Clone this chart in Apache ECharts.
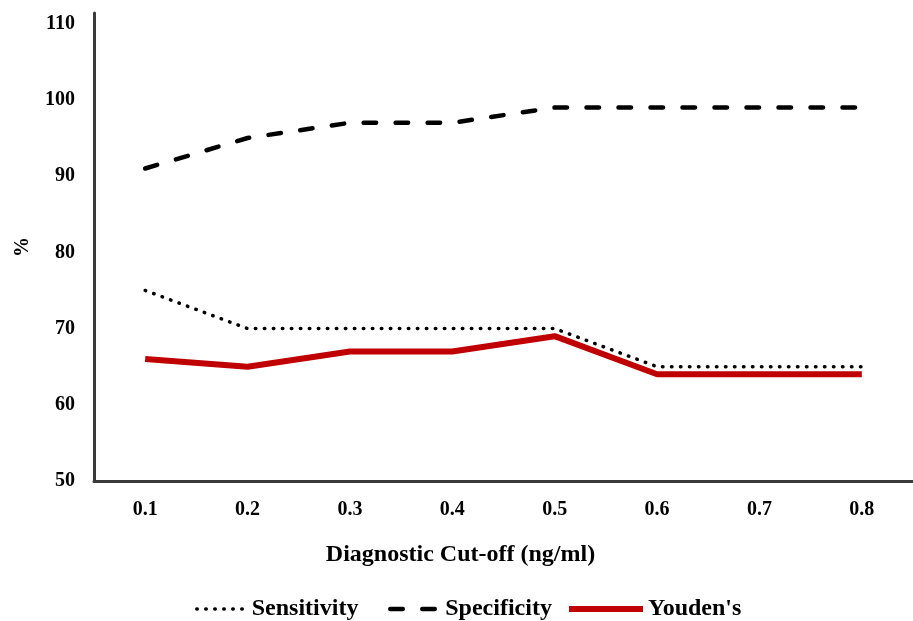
<!DOCTYPE html>
<html><head><meta charset="utf-8">
<script src="https://cdn.jsdelivr.net/npm/echarts@6/dist/echarts.min.js"></script>
<style>html,body{margin:0;padding:0;background:#fff}#c{width:913px;height:621px}</style>
</head><body><div id="c"></div>
<script>
const categories = ['0.1','0.2','0.3','0.4','0.5','0.6','0.7','0.8'];
const sensitivity = [75,70,70,70,70,65,65,65];
const specificity = [91,95,97,97,99,99,99,99];
const youden = [66,65,67,67,69,64,64,64];
const yTicks = [50,60,70,80,90,100,110];

const font = 'Liberation Serif';
const txt = {color:'#000',fontFamily:font,fontWeight:'bold',fontSize:24};
const sensStyle = {color:'#000',width:3.5,type:[0.5,8.5],cap:'round'};
const specStyle = {color:'#000',width:4.5,type:[12.5,19.5],cap:'round'};
const youStyle = {color:'#c00000',width:6,type:'solid'};
function leg(name, left, w, ls){
  return {data:[name], left:left, top:597, itemWidth:w, itemHeight:14, padding:0,
    textStyle:txt, itemStyle:{opacity:0}, lineStyle:ls};
}
const chart = echarts.init(document.getElementById('c'), null, {renderer:'canvas'});
chart.setOption({
  animation:false,
  backgroundColor:'#fff',
  grid:{left:94,right:-6,top:13,bottom:140,containLabel:false},
  xAxis:{
    type:'category', data:categories, boundaryGap:true,
    axisLine:{lineStyle:{color:'#3a3a3a',width:3}},
    axisTick:{show:false},
    axisLabel:{color:'#000',fontFamily:font,fontWeight:'bold',fontSize:20,margin:19},
    name:'Diagnostic Cut-off (ng/ml)', nameLocation:'middle', nameGap:62,
    nameTextStyle:Object.assign({padding:[0,86,0,0]},txt)
  },
  yAxis:{
    type:'value', min:50, max:111.4, interval:10,
    splitLine:{show:false},
    axisLine:{show:true,lineStyle:{color:'#3a3a3a',width:3}},
    axisTick:{show:false},
    axisLabel:{color:'#000',fontFamily:font,fontWeight:'bold',fontSize:20,margin:19,
      formatter:v=> yTicks.includes(Math.round(v*10)/10) ? String(v) : ''},
    name:'%', nameLocation:'middle', nameGap:61, nameRotate:90,
    nameTextStyle:{color:'#000',fontFamily:font,fontWeight:'bold',fontSize:20}
  },
  legend:[
    leg('Sensitivity',195,50,sensStyle),
    leg('Specificity',388,50,specStyle),
    leg("Youden's",566,74,youStyle)
  ],
  series:[
    {name:'Sensitivity',type:'line',data:sensitivity,symbol:'none',
     lineStyle:sensStyle,itemStyle:{color:'#000'}},
    {name:'Specificity',type:'line',data:specificity,symbol:'none',
     lineStyle:specStyle,itemStyle:{color:'#000'}},
    {name:"Youden's",type:'line',data:youden,symbol:'none',
     lineStyle:youStyle,itemStyle:{color:'#c00000'}}
  ]
});
</script></body></html>
